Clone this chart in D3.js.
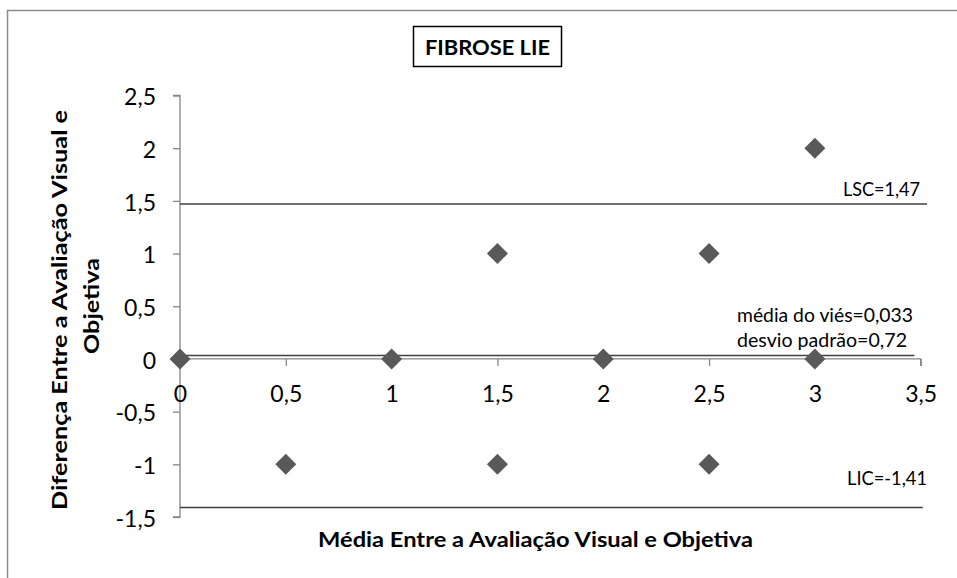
<!DOCTYPE html>
<html>
<head>
<meta charset="utf-8">
<script src="https://cdn.jsdelivr.net/npm/d3@7"></script>
<style>
  html, body { margin: 0; padding: 0; background: #fff; }
  svg { display: block; }
  text { font-family: Lato, "Open Sans", sans-serif; fill: #000; }
</style>
</head>
<body>
<svg id="chart" width="957" height="578"></svg>
<script>
// ---- data ----
const pointsX = [0, 0.5, 1, 1.5, 1.5, 2, 2.5, 2.5, 3, 3];
const pointsY = [0, -1, 0, 1, -1, 0, 1, -1, 2, 0];
const xTicks = [0, 0.5, 1, 1.5, 2, 2.5, 3, 3.5];
const yTicks = [-1.5, -1, -0.5, 0, 0.5, 1, 1.5, 2, 2.5];
const refNames = ["LSC", "media", "LIC"];
const refValues = [1.47, 0.033, -1.41];
const refEndX = [3.53, 3.47, 3.51];
const chartTitle = "FIBROSE LIE";
const xTitle = "Média Entre a Avaliação Visual e Objetiva";
const yTitleLines = ["Diferença Entre a Avaliação Visual e", "Objetiva"];
const labelLSC = "LSC=1,47";
const labelMean = ["média do viés=0,033", "desvio padrão=0,72"];
const labelLIC = "LIC=-1,41";

const svg = d3.select("#chart");
const fmt = d => String(d).replace(".", ",");

// outer border
svg.append("rect").attr("x", 7.5).attr("y", 10.5).attr("width", 1000).attr("height", 1000)
  .attr("fill", "none").attr("stroke", "#8c8c8c").attr("stroke-width", 1.5);

const x = d3.scaleLinear().domain([0, 3.5]).range([180, 920.7]);
const y = d3.scaleLinear().domain([-1.5, 2.5]).range([517, 95.5]);

const axisColor = "#868686";

// y axis
const yAxis = svg.append("g").attr("transform", `translate(${x(0)},0)`)
  .call(d3.axisLeft(y).tickValues(yTicks).tickFormat(fmt).tickSize(7).tickPadding(17));
yAxis.select(".domain").attr("stroke", axisColor).attr("stroke-width", 1.3)
  .attr("d", `M-7,${y(2.5)}H0V${y(-1.5)}H-7`);
yAxis.selectAll(".tick line").attr("stroke", axisColor).attr("stroke-width", 1.3);
yAxis.selectAll(".tick text").attr("font-size", 23).attr("fill", "#000")
  .attr("font-family", "Lato, sans-serif").attr("dy", "0.4em");

// x axis at y=0
const xAxis = svg.append("g").attr("transform", `translate(0,${y(0)})`)
  .call(d3.axisBottom(x).tickValues(xTicks).tickFormat(fmt).tickSize(7).tickPadding(20));
xAxis.select(".domain").attr("stroke", axisColor).attr("stroke-width", 1.3)
  .attr("d", `M${x(0)},0H${x(3.5)}V7`);
xAxis.selectAll(".tick line").attr("stroke", axisColor).attr("stroke-width", 1.3);
xAxis.selectAll(".tick text").attr("font-size", 23).attr("fill", "#000")
  .attr("font-family", "Lato, sans-serif");

// reference lines
svg.append("g").selectAll("line").data(refValues).join("line")
  .attr("x1", x(0)).attr("x2", (d, i) => x(refEndX[i]))
  .attr("y1", d => y(d)).attr("y2", d => y(d))
  .attr("stroke", "#404040").attr("stroke-width", 1.5);

// points (diamonds)
const diamond = d3.symbol().type(d3.symbolSquare).size(220);
svg.append("g").selectAll("path").data(pointsX).join("path")
  .attr("d", diamond)
  .attr("transform", (d, i) => `translate(${x(d)},${y(pointsY[i])}) rotate(45)`)
  .attr("fill", "#595959");

// annotations
svg.append("text").text(labelLSC).attr("x", 920).attr("y", y(refValues[0]) - 8)
  .attr("text-anchor", "end").attr("font-size", 19).attr("textLength", 77).attr("lengthAdjust", "spacingAndGlyphs");
svg.append("text").text(labelMean[0]).attr("x", 737).attr("y", 322)
  .attr("font-size", 19).attr("textLength", 176).attr("lengthAdjust", "spacingAndGlyphs");
svg.append("text").text(labelMean[1]).attr("x", 737).attr("y", 347)
  .attr("font-size", 19).attr("textLength", 170).attr("lengthAdjust", "spacingAndGlyphs");
svg.append("text").text(labelLIC).attr("x", 927).attr("y", 485)
  .attr("text-anchor", "end").attr("font-size", 19).attr("textLength", 80).attr("lengthAdjust", "spacingAndGlyphs");

// chart title box
svg.append("rect").attr("x", 413.5).attr("y", 26.5).attr("width", 148).attr("height", 40)
  .attr("fill", "#fff").attr("stroke", "#000").attr("stroke-width", 1.5);
svg.append("text").text(chartTitle).attr("x", 487.5).attr("y", 55)
  .attr("text-anchor", "middle").attr("font-weight", "bold").attr("font-size", 21)
  .attr("textLength", 125).attr("lengthAdjust", "spacingAndGlyphs");

// x title
svg.append("text").text(xTitle).attr("x", 535.5).attr("y", 547)
  .attr("text-anchor", "middle").attr("font-weight", "bold").attr("font-size", 21)
  .attr("textLength", 435).attr("lengthAdjust", "spacingAndGlyphs");

// y title
const yt = svg.append("g").attr("transform", "translate(67,310) rotate(-90)");
yt.append("text").text(yTitleLines[0]).attr("x", 0).attr("y", 0)
  .attr("text-anchor", "middle").attr("font-weight", "bold").attr("font-size", 21)
  .attr("textLength", 400).attr("lengthAdjust", "spacingAndGlyphs");
yt.append("text").text(yTitleLines[1]).attr("x", 4).attr("y", 32)
  .attr("text-anchor", "middle").attr("font-weight", "bold").attr("font-size", 21)
  .attr("textLength", 96).attr("lengthAdjust", "spacingAndGlyphs");
</script>
</body>
</html>
